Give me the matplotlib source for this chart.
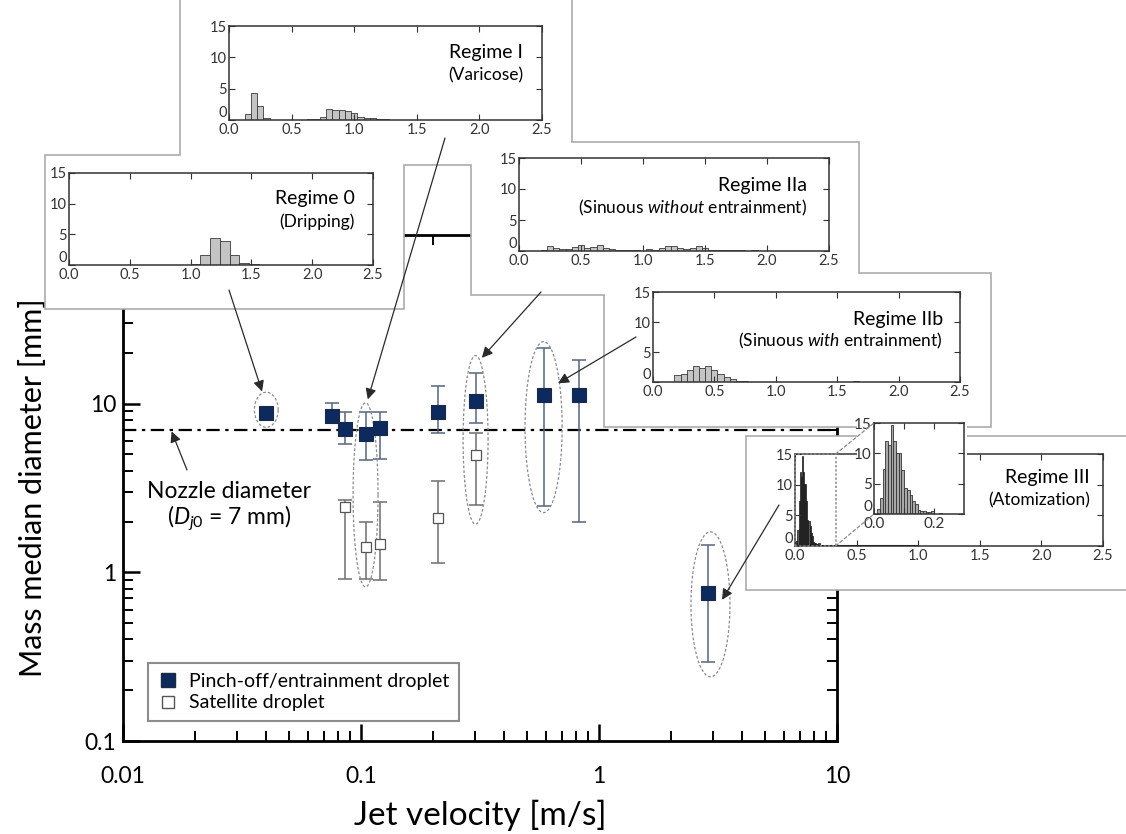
import numpy as np
import matplotlib
matplotlib.use("Agg")
import matplotlib.pyplot as plt
from matplotlib.patches import Polygon, Rectangle, ConnectionPatch
from matplotlib.lines import Line2D

plt.rcParams['font.family'] = ['Lato', 'DejaVu Sans']
plt.rcParams['mathtext.fontset'] = 'custom'
plt.rcParams['mathtext.rm'] = 'Lato'
plt.rcParams['mathtext.it'] = 'Lato:italic'

# ---------------- data ----------------
pin_x = [0.040, 0.0755, 0.0857, 0.105, 0.120, 0.211, 0.304, 0.587, 0.824, 2.87]
pin_y = [8.85, 8.5, 7.1, 6.6, 7.2, 8.97, 10.4, 11.3, 11.3, 0.755]
pin_lo = [8.85, 7.7, 5.8, 4.65, 4.7, 6.7, 7.7, 2.49, 2.0, 0.294]
pin_hi = [8.85, 10.1, 8.9, 8.9, 8.9, 12.8, 15.1, 21.3, 18.2, 1.46]

sat_x = [0.0857, 0.105, 0.120, 0.211, 0.304]
sat_y = [2.45, 1.42, 1.47, 2.10, 4.98]
sat_lo = [0.915, 0.915, 0.90, 1.14, 2.50]
sat_hi = [2.69, 2.00, 2.63, 3.49, 6.70]

nozzle_d = 7.0

x_ticks = [0.01, 0.1, 1, 10]
x_ticklabels = ["0.01", "0.1", "1", "10"]
y_ticks = [0.1, 1, 10, 100]
y_ticklabels = ["0.1", "1", "10", "100"]

# regime ellipses: centre (data) and half axes (decades)
ell_cx = [0.040, 0.1045, 0.303, 0.585, 2.94]
ell_cy = [9.2, 2.88, 6.1, 7.26, 0.646]
ell_hw = [0.05, 0.0525, 0.0525, 0.078, 0.082]
ell_hh = [0.104, 0.546, 0.50, 0.507, 0.43]

# histograms (droplet diameter distribution)
r0_c = [1.04, 1.12, 1.20, 1.28, 1.36, 1.44, 1.52]
r0_h = [0.1, 1.6, 4.4, 3.9, 1.6, 0.25, 0.1]
r0_w = 0.08

r1_c = [0.15, 0.20, 0.25, 0.30, 0.65, 0.70, 0.75, 0.80, 0.85, 0.90, 0.95, 1.00,
        1.05, 1.10, 1.15, 1.20, 1.25]
r1_h = [1.0, 4.3, 2.2, 0.3, 0.15, 0.2, 0.5, 1.7, 1.65, 1.55, 1.45, 1.1,
        0.45, 0.3, 0.25, 0.1, 0.15]
r1_w = 0.05

r2a_c = [0.20, 0.25, 0.30, 0.35, 0.40, 0.45, 0.50, 0.55, 0.60, 0.65, 0.70, 0.75,
         0.80, 0.85, 0.90, 0.95, 1.00, 1.05, 1.10, 1.15, 1.20, 1.25, 1.30, 1.35,
         1.40, 1.45, 1.50, 1.55, 1.60, 1.65, 1.70, 1.75, 1.80, 1.85, 1.90]
r2a_h = [0.2, 0.8, 0.5, 0.4, 0.4, 0.6, 0.9, 0.5, 0.6, 0.9, 0.5, 0.3,
         0.1, 0.1, 0.1, 0.1, 0.05, 0.3, 0.2, 0.5, 0.8, 0.8, 0.5, 0.4,
         0.5, 0.8, 0.5, 0.2, 0.1, 0.2, 0.1, 0.1, 0.2, 0.05, 0.1]
r2a_w = 0.05

r2b_c = [0.20, 0.25, 0.30, 0.35, 0.40, 0.45, 0.50, 0.55, 0.60, 0.65, 0.70, 0.75, 1.65]
r2b_h = [1.1, 1.3, 2.0, 2.6, 2.4, 2.6, 2.0, 1.3, 0.9, 0.5, 0.1, 0.1, 0.1]
r2b_w = 0.05

r3_c = [0.015, 0.024, 0.033, 0.042, 0.051, 0.060, 0.069, 0.078, 0.087, 0.096,
        0.105, 0.114, 0.123, 0.132, 0.141, 0.150, 0.159, 0.168, 0.177, 0.186,
        0.195, 0.222]
r3_h = [0.8, 2.6, 7.4, 12.0, 11.3, 14.6, 12.0, 10.1, 10.1, 7.3,
        4.3, 4.0, 3.2, 2.2, 1.7, 0.7, 0.55, 0.5, 0.4, 0.3,
        0.45, 0.15]
r3_w = 0.009
r3_tail_end = 1.0
r3_zoom_x = 0.33

hist_xticks = [0.0, 0.5, 1.0, 1.5, 2.0, 2.5]
hist_xticklabels = ["0.0", "0.5", "1.0", "1.5", "2.0", "2.5"]
hist_yticks = [0, 5, 10, 15]
inner_xticks = [0.0, 0.1, 0.2]
inner_xticklabels = ["0.0", "", "0.2"]

# ---------------- figure ----------------
W, H = 1126, 834
fig = plt.figure(figsize=(W / 100, H / 100), dpi=100)


def fr(l, t, r, b):
    return [l / W, 1 - b / H, (r - l) / W, (b - t) / H]


def fp(x, y):
    return (x / W, 1 - y / H)


NAVY = '#0c2a5e'

ax = fig.add_axes(fr(123, 235, 837, 741), zorder=0)
ax.set_xscale('log')
ax.set_yscale('log')
ax.set_xlim(0.01, 10)
ax.set_ylim(0.1, 100)

ax.axhline(nozzle_d, color='black', lw=1.6, ls=(0, (6, 2.5, 1.5, 2.5)), zorder=1)

pin_y_a = np.array(pin_y)
yerr_p = [pin_y_a - np.array(pin_lo), np.array(pin_hi) - pin_y_a]
ax.errorbar(pin_x, pin_y, yerr=yerr_p, fmt='none', ecolor='#55657f', elinewidth=1.1,
            capsize=5, capthick=1.1, zorder=2)
sat_y_a = np.array(sat_y)
yerr_s = [sat_y_a - np.array(sat_lo), np.array(sat_hi) - sat_y_a]
ax.errorbar(sat_x, sat_y, yerr=yerr_s, fmt='none', ecolor='#6e6e6e', elinewidth=1.1,
            capsize=5, capthick=1.1, zorder=2)
ax.plot(pin_x, pin_y, 's', ms=10, mfc=NAVY, mec='#1a2a45', mew=0.8, ls='none', zorder=4)
ax.plot(sat_x, sat_y, 's', ms=7, mfc='white', mec='#555555', mew=0.9, ls='none', zorder=4)

t = np.linspace(0, 2 * np.pi, 300)
for cx, cy, hw, hh in zip(ell_cx, ell_cy, ell_hw, ell_hh):
    ex = 10 ** (np.log10(cx) + hw * np.cos(t))
    ey = 10 ** (np.log10(cy) + hh * np.sin(t))
    ax.plot(ex, ey, color='#8a8a8a', lw=0.9, ls=(0, (2.2, 1.6)), zorder=3)

ax.set_xticks(x_ticks)
ax.set_xticklabels(x_ticklabels)
ax.set_yticks(y_ticks)
ax.set_yticklabels(y_ticklabels)
ax.tick_params(which='major', direction='in', length=12, width=1.8, top=True, right=True,
               labelsize=16.5, colors='black')
ax.tick_params(axis='x', which='major', pad=18)
ax.tick_params(axis='y', which='major', pad=5)
ax.tick_params(which='minor', direction='in', length=7, width=1.4, top=True, right=True)
for s in ax.spines.values():
    s.set_linewidth(2)
ax.set_xlabel('Jet velocity [m/s]', fontsize=24, labelpad=9)
ax.set_ylabel('Mass median diameter [mm]', fontsize=22)
ax.yaxis.set_label_coords(-0.107, 0.5)

leg_handles = [Line2D([], [], marker='s', ls='none', ms=10, mfc=NAVY, mec='#1a2a45'),
               Line2D([], [], marker='s', ls='none', ms=8.5, mfc='white', mec='#555555')]
leg = ax.legend(leg_handles, ['Pinch-off/entrainment droplet', 'Satellite droplet'],
                loc='lower left', bbox_to_anchor=(0.022, 0.02), fontsize=14,
                fancybox=False, framealpha=1, edgecolor='#8c8c8c', handletextpad=0.6,
                labelspacing=0.25, borderpad=0.5, handlelength=1.0)
leg.get_frame().set_linewidth(1.5)

fig.text(*fp(229, 492), 'Nozzle diameter', fontsize=16.5, ha='center', va='center')
fig.text(*fp(229, 518), r'($D_{j0}$ = 7 mm)', fontsize=16.5, ha='center', va='center')

# ---------------- inset panels ----------------
poly_px = [(45, 155), (180, 155), (180, -5), (572, -5), (572, 142), (859, 142),
           (859, 273), (991, 273), (991, 427), (604, 427), (604, 295), (471, 295),
           (471, 165), (404, 165), (404, 309), (45, 309)]
panel = Polygon([fp(*p) for p in poly_px], closed=True, transform=fig.transFigure,
                fc='white', ec='#ababab', lw=1.2, zorder=1)
fig.add_artist(panel)
panel3 = Polygon([fp(*p) for p in [(746, 436), (1140, 436), (1140, 590), (746, 590)]],
                 closed=True, transform=fig.transFigure, fc='white', ec='#ababab',
                 lw=1.2, zorder=1)
fig.add_artist(panel3)


def style_hist(hax, xt, xtl, size=10.5):
    hax.set_yticks(hist_yticks)
    hax.set_yticklabels([str(v) for v in hist_yticks])
    hax.set_xticks(xt)
    hax.set_xticklabels(xtl)
    hax.set_ylim(0, 15)
    hax.tick_params(direction='in', top=True, right=True, length=4, width=0.8,
                    labelsize=size, labelcolor='#333333', color='#333333')
    hax.tick_params(axis='x', pad=2.5)
    hax.tick_params(axis='y', pad=1.5)
    hax.get_yticklabels()[0].set_verticalalignment('bottom')
    for s in hax.spines.values():
        s.set_linewidth(1.1)
        s.set_color('#333333')


def hist_ax(rect, c, h, w, title, sub, tx=0.935, ty=0.72, sy=0.47):
    hax = fig.add_axes(rect, zorder=2)
    hax.bar(c, h, width=w, color='#c4c4c4', edgecolor='#3a3a3a', lw=0.6)
    hax.set_xlim(0, 2.5)
    style_hist(hax, hist_xticks, hist_xticklabels)
    hax.text(tx, ty, title, transform=hax.transAxes, ha='right', va='center', fontsize=14)
    hax.text(tx, sy, sub, transform=hax.transAxes, ha='right', va='center', fontsize=12.5)
    return hax


hist_ax(fr(69, 173, 373, 265), r0_c, r0_h, r0_w, 'Regime 0', '(Dripping)', tx=0.94)
hist_ax(fr(229, 26, 542, 120), r1_c, r1_h, r1_w, 'Regime I', '(Varicose)', tx=0.94)
hist_ax(fr(519, 158, 829, 251), r2a_c, r2a_h, r2a_w, 'Regime IIa',
        r'(Sinuous $\it{without}$ entrainment)', tx=0.928, ty=0.70, sy=0.46)
hist_ax(fr(653, 292, 960, 382), r2b_c, r2b_h, r2b_w, 'Regime IIb',
        r'(Sinuous $\it{with}$ entrainment)', tx=0.945, ty=0.70, sy=0.46)

ax3 = fig.add_axes(fr(795, 454, 1103, 546), zorder=2)
ax3.bar(r3_c, r3_h, width=r3_w, color='#5a5a5a', edgecolor='#111111', lw=0.5)
ax3.plot([0, r3_tail_end], [0, 0], color='black', lw=2.2, solid_capstyle='butt')
ax3.set_xlim(0, 2.5)
style_hist(ax3, hist_xticks, hist_xticklabels)
ax3.text(0.958, 0.74, 'Regime III', transform=ax3.transAxes, ha='right', va='center', fontsize=14)
ax3.text(0.958, 0.50, '(Atomization)', transform=ax3.transAxes, ha='right', va='center', fontsize=12.5)
ax3.add_patch(Rectangle((0, 0), r3_zoom_x, 15, fill=False, ec='#8a8a8a', lw=1.1,
                        ls=(0, (1.5, 1.2)), clip_on=False, zorder=5))

cover = Rectangle(fp(857, 533), (967 - 857) / W, (533 - 417) / H, transform=fig.transFigure,
                  fc='white', ec='none', zorder=2.5)
fig.add_artist(cover)

axi = fig.add_axes(fr(874, 423, 964, 514), zorder=3)
axi.bar(r3_c, r3_h, width=r3_w, color='#a8a8a8', edgecolor='#333333', lw=0.6)
axi.set_xlim(0, 0.3)
style_hist(axi, inner_xticks, inner_xticklabels, size=11)

for ya, yb in [(15, 15), (0, 0)]:
    cp = ConnectionPatch(xyA=(r3_zoom_x, ya), coordsA=ax3.transData,
                         xyB=(0, yb), coordsB=axi.transData,
                         color='#8a8a8a', lw=0.9, ls=(0, (2.5, 2)))
    cp.set_zorder(4)
    fig.add_artist(cp)

# ---------------- annotation arrows ----------------
arrow_tail_px = [(229, 290), (445, 138), (541, 292), (636, 337), (779, 505), (187, 470)]
arrow_tip_data = [(0.0384, 11.8), (0.1068, 10.6), (0.322, 18.7), (0.673, 13.2),
                  (3.29, 0.687), (0.016, 6.85)]
for (px, py), tip in zip(arrow_tail_px, arrow_tip_data):
    cp = ConnectionPatch(xyA=fp(px, py), coordsA='figure fraction',
                         xyB=tip, coordsB=ax.transData,
                         arrowstyle='-|>', mutation_scale=16, color='#2a2a2a', lw=0.9,
                         shrinkA=0, shrinkB=0)
    cp.set_zorder(6)
    fig.add_artist(cp)

fig.savefig('out.png', dpi=100)
